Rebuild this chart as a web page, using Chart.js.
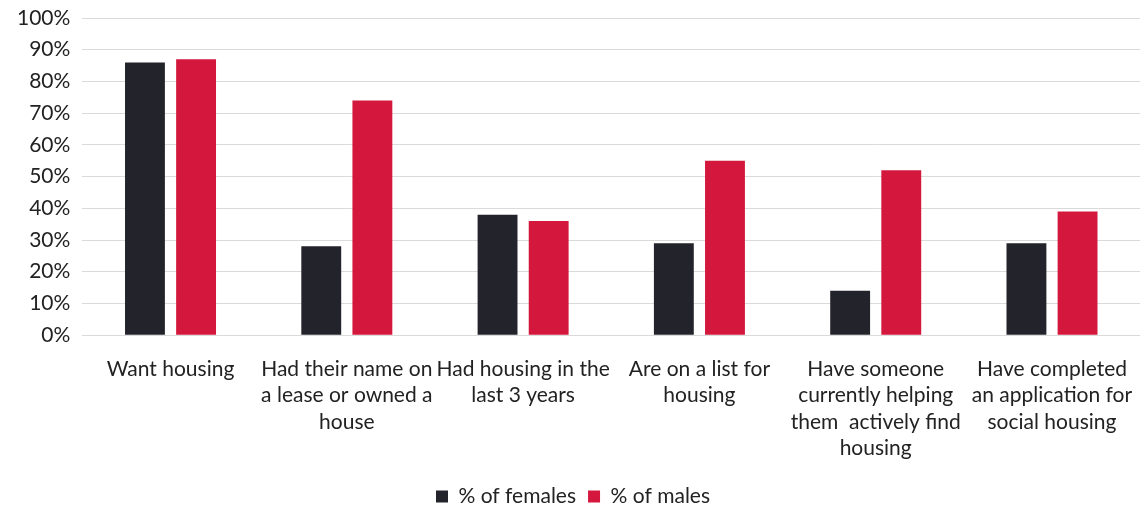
<!DOCTYPE html>
<html>
<head>
<meta charset="utf-8">
<script src="https://cdn.jsdelivr.net/npm/chart.js@4"></script>
<style>
  html, body { margin: 0; padding: 0; background: #fff; }
  #wrap { width: 1145px; height: 508px; }
</style>
</head>
<body>
<div id="wrap"><canvas id="housing"></canvas></div>
<script>
var categories = [
  'Want housing',
  ['Had their name on', 'a lease or owned a', 'house'],
  ['Had housing in the', 'last 3 years'],
  ['Are on a list for', 'housing'],
  ['Have someone', 'currently helping', 'them  actively find', 'housing'],
  ['Have completed', 'an application for', 'social housing']
];
var females = [86, 28, 38, 29, 14, 29];
var males = [87, 74, 36, 55, 52, 39];

var font = "Lato, 'Open Sans', sans-serif";

new Chart(document.getElementById('housing'), {
  type: 'bar',
  data: {
    labels: categories,
    datasets: [{
      label: '% of females',
      data: females,
      backgroundColor: '#23232b',
      barPercentage: 0.78,
      categoryPercentage: 0.58
    }, {
      label: '% of males',
      data: males,
      backgroundColor: '#d4173c',
      barPercentage: 0.78,
      categoryPercentage: 0.58
    }]
  },
  options: {
    responsive: true,
    maintainAspectRatio: false,
    animation: false,
    layout: { padding: { top: 0, right: 4, left: 5, bottom: -9 } },
    plugins: {
      tooltip: { enabled: false },
      legend: {
        position: 'bottom',
        labels: {
          boxWidth: 12,
          boxHeight: 12,
          padding: 12,
          color: '#222',
          font: { family: font, size: 21 }
        }
      }
    },
    scales: {
      x: {
        grid: { display: false },
        border: { display: false },
        ticks: {
          color: '#222',
          maxRotation: 0,
          autoSkip: false,
          padding: 12.5,
          font: { family: font, size: 21, lineHeight: 1.26 }
        }
      },
      y: {
        min: 0,
        max: 100,
        border: { display: false },
        grid: { color: '#dadada', drawTicks: false },
        ticks: {
          stepSize: 10,
          color: '#222',
          padding: 12,
          font: { family: font, size: 21 },
          callback: function (v) { return v + '%'; }
        },
        // let the 100% label sit close to the top edge
        afterFit: function (scale) { scale.paddingTop = 18; }
      }
    }
  }
});
</script>
</body>
</html>
